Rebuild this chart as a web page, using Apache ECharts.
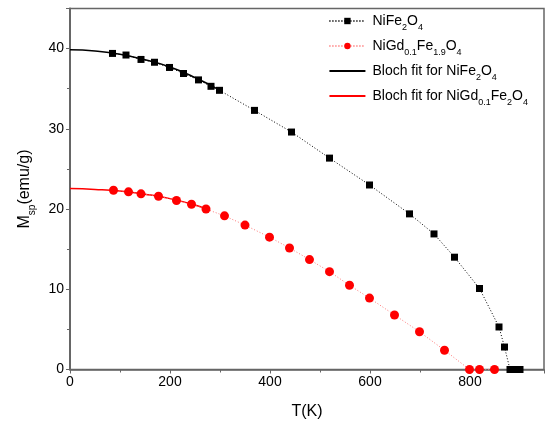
<!DOCTYPE html>
<html>
<head>
<meta charset="utf-8">
<script src="https://cdn.jsdelivr.net/npm/echarts@6/dist/echarts.min.js"></script>
<style>
  html, body { margin: 0; padding: 0; background: #fff; }
  #main { width: 545px; height: 428px; }
</style>
</head>
<body>
<div id="main"></div>
<script>
// data
var niT = [85, 112, 142, 169, 199, 227, 257, 282, 299, 369, 443, 519, 599, 679, 728, 769, 819, 858, 869, 880, 890, 900];
var niM = [39.4, 39.2, 38.65, 38.3, 37.65, 36.9, 36.1, 35.3, 34.8, 32.3, 29.6, 26.35, 23.0, 19.4, 16.9, 14.0, 10.1, 5.3, 2.8, 0, 0, 0];

var gdT = [87, 117, 142, 177, 213, 243, 272, 309, 350, 399, 439, 479, 519, 559, 599, 649, 699, 749, 799, 819, 849];
var gdM = [22.35, 22.15, 21.9, 21.6, 21.06, 20.6, 20.0, 19.15, 18.0, 16.5, 15.15, 13.7, 12.2, 10.5, 8.9, 6.8, 4.7, 2.4, 0, 0, 0];

var fitNiT = [0, 50, 100, 150, 200, 250, 300];
var fitNiM = [39.85, 39.7, 39.3, 38.6, 37.7, 36.4, 34.8];
var fitGdT = [0, 50, 100, 150, 200, 250, 272];
var fitGdM = [22.55, 22.45, 22.25, 21.85, 21.3, 20.5, 20.0];

var names = ['NiFe2O4', 'NiGd0.1Fe1.9O4', 'Bloch fit for NiFe2O4', 'Bloch fit for NiGd0.1Fe2O4'];
var legendRich = {
  '0': '{n|NiFe}{s|2}{n|O}{s|4}',
  '1': '{n|NiGd}{s|0.1}{n|Fe}{s|1.9}{n|O}{s|4}',
  '2': '{n|Bloch fit for NiFe}{s|2}{n|O}{s|4}',
  '3': '{n|Bloch fit for NiGd}{s|0.1}{n|Fe}{s|2}{n|O}{s|4}'
};

function pairs(xs, ys) {
  return xs.map(function (x, i) { return [x, ys[i]]; });
}

var chart = echarts.init(document.getElementById('main'), null, { renderer: 'canvas' });

var font = 'Liberation Sans, Arial, sans-serif';
var rich = {
  n: { fontSize: 14, lineHeight: 22, verticalAlign: 'middle', color: '#000', fontFamily: font },
  s: { fontSize: 9, lineHeight: 9, verticalAlign: 'bottom', color: '#000', fontFamily: font }
};

chart.setOption({
  animation: false,
  grid: {
    left: 70, right: 1, top: 8.5, bottom: 58.5,
    show: true, borderColor: '#666', borderWidth: 1.5
  },
  legend: {
    right: 12, top: 9,
    orient: 'vertical',
    itemGap: 7,
    itemWidth: 36, itemHeight: 8,
    data: [
      { name: names[0] },
      { name: names[1] },
      { name: names[2], itemStyle: { color: 'rgba(0,0,0,0)', borderWidth: 0 } },
      { name: names[3], itemStyle: { color: 'rgba(0,0,0,0)', borderWidth: 0 } }
    ],
    formatter: function (name) {
      return legendRich[String(names.indexOf(name))];
    },
    textStyle: { rich: rich, padding: [0, 0, 0, 2] }
  },
  xAxis: {
    type: 'value', min: 0, max: 948, interval: 200,
    name: 'T(K)', nameLocation: 'middle', nameGap: 34,
    nameTextStyle: { fontSize: 16, color: '#000', fontFamily: font },
    axisLine: { onZero: false, lineStyle: { color: '#666', width: 1.5 } },
    axisTick: { inside: false, length: 4, lineStyle: { color: '#666' } },
    minorTick: { show: true, splitNumber: 2, length: 3, lineStyle: { color: '#666' } },
    axisLabel: { fontSize: 14, color: '#000', fontFamily: font, margin: 6, showMaxLabel: false },
    splitLine: { show: false }
  },
  yAxis: {
    type: 'value', min: 0, max: 45, interval: 10,
    name: '{n|M}{s|sp}{n|(emu/g)}', nameLocation: 'middle', nameGap: 33, nameRotate: 90,
    nameTextStyle: {
      rich: {
        n: { fontSize: 16, lineHeight: 24, verticalAlign: 'middle', color: '#000', fontFamily: font },
        s: { fontSize: 10, lineHeight: 10, verticalAlign: 'bottom', color: '#000', fontFamily: font }
      }
    },
    axisLine: { onZero: false, lineStyle: { color: '#666', width: 2 } },
    axisTick: { inside: false, length: 4, lineStyle: { color: '#666' } },
    minorTick: { show: true, splitNumber: 2, length: 3, lineStyle: { color: '#666' } },
    axisLabel: { fontSize: 14, color: '#000', fontFamily: font, margin: 6, showMaxLabel: false },
    splitLine: { show: false }
  },
  series: [
    {
      name: names[0], type: 'line', data: pairs(niT, niM),
      symbol: 'rect', symbolSize: 7, showAllSymbol: true,
      itemStyle: { color: '#000' },
      lineStyle: { color: '#000', width: 1, type: [1, 2] },
      z: 3
    },
    {
      name: names[1], type: 'line', data: pairs(gdT, gdM),
      symbol: 'circle', symbolSize: 9, showAllSymbol: true,
      itemStyle: { color: '#f00' },
      lineStyle: { color: '#f77', width: 1, type: [1, 2] },
      z: 3
    },
    {
      name: names[2], type: 'line', data: pairs(fitNiT, fitNiM),
      smooth: true, showSymbol: false, symbol: 'none',
      itemStyle: { color: '#000' },
      lineStyle: { color: '#000', width: 1.5 },
      z: 2
    },
    {
      name: names[3], type: 'line', data: pairs(fitGdT, fitGdM),
      smooth: true, showSymbol: false, symbol: 'none',
      itemStyle: { color: '#f00' },
      lineStyle: { color: '#f00', width: 1.5 },
      z: 2
    }
  ]
});

window.addEventListener('resize', function () {
  chart.resize();
});
</script>
</body>
</html>
